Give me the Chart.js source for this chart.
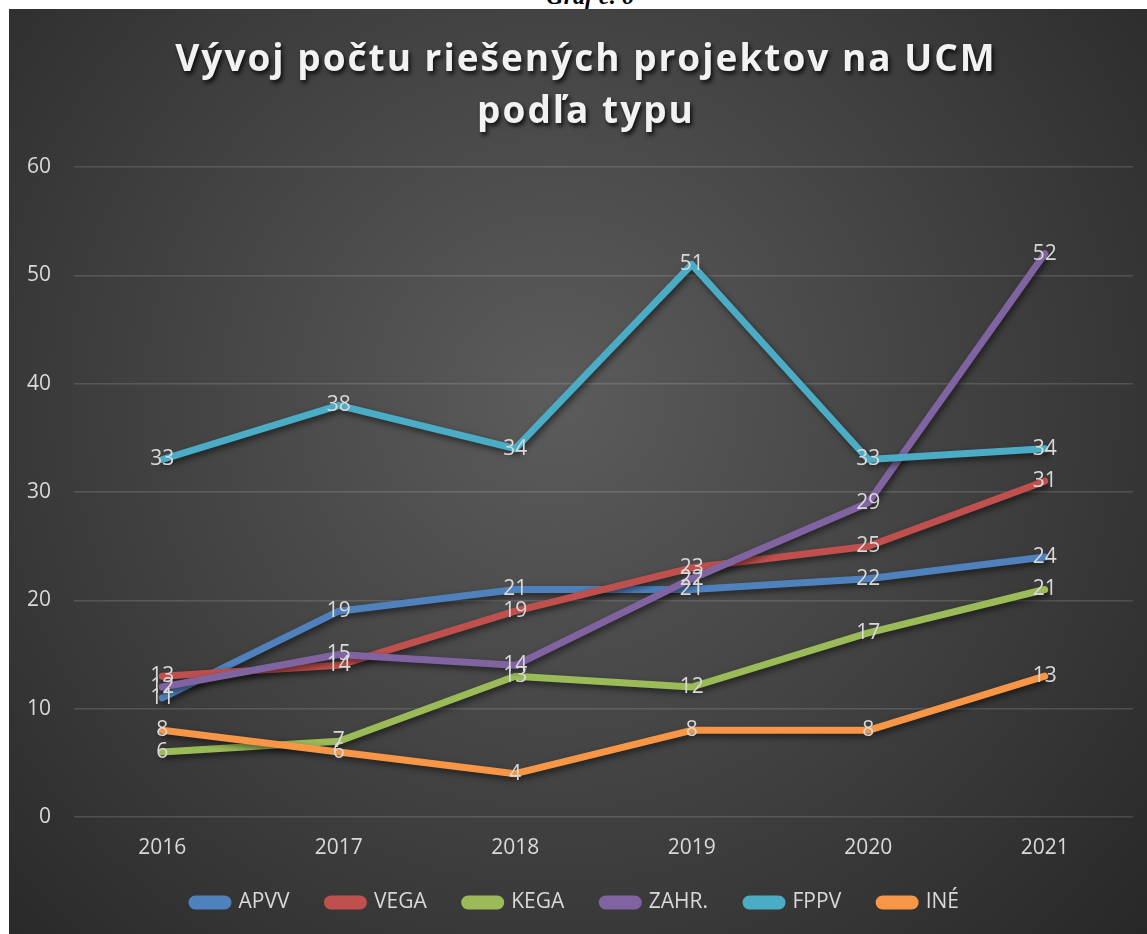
<!DOCTYPE html>
<html lang="sk">
<head>
<meta charset="utf-8">
<title>Vývoj počtu riešených projektov na UCM</title>
<script src="https://cdn.jsdelivr.net/npm/chart.js@4"></script>
<style>
  html, body { margin: 0; padding: 0; background: #fff; }
  body { width: 1147px; height: 934px; position: relative; overflow: hidden; }
  #caption {
    position: absolute; top: -17px; left: 0; width: 1180px;
    text-align: center; font: italic bold 24px 'Liberation Serif', serif; color: #000;
  }
  #box { position: absolute; left: 9px; top: 9px; width: 1138px; height: 925px; }
</style>
</head>
<body>
<div id="caption">Graf č. 6</div>
<div id="box"><canvas id="grafProjekty"></canvas></div>
<script>
// údaje z grafu
const roky = ['2016', '2017', '2018', '2019', '2020', '2021'];
const typy = ['APVV', 'VEGA', 'KEGA', 'ZAHR.', 'FPPV', 'INÉ'];
const apvv = [11, 19, 21, 21, 22, 24];
const vega = [13, 14, 19, 23, 25, 31];
const kega = [6, 7, 13, 12, 17, 21];
const zahr = [12, 15, 14, 22, 29, 52];
const fppv = [33, 38, 34, 51, 33, 34];
const ine = [8, 6, 4, 8, 8, 13];
const osY = [0, 10, 20, 30, 40, 50, 60];
const nadpis = ['Vývoj počtu riešených projektov na UCM', 'podľa typu'];

const farby = ['#4f81bd', '#c0504d', '#9bbb59', '#8064a2', '#4bacc6', '#f79646'];
const hodnoty = [apvv, vega, kega, zahr, fppv, ine];
const PISMO = "'Open Sans', sans-serif";
const SIVA = '#d9d9d9';

// tmavé pozadie s kruhovým prechodom
const pozadie = {
  id: 'pozadie',
  beforeDraw(chart) {
    const { ctx, width, height } = chart;
    const g = ctx.createRadialGradient(width * 0.48, height * 0.42, 0, width * 0.48, height * 0.42, width * 0.72);
    g.addColorStop(0, '#5c5c5c');
    g.addColorStop(1, '#262626');
    ctx.save();
    ctx.fillStyle = g;
    ctx.fillRect(0, 0, width, height);
    ctx.restore();
  }
};

// tieň pod čiarami
const tien = {
  id: 'tien',
  beforeDatasetDraw(chart) {
    const ctx = chart.ctx;
    ctx.save();
    ctx.shadowColor = 'rgba(0,0,0,0.55)';
    ctx.shadowBlur = 6;
    ctx.shadowOffsetX = 2;
    ctx.shadowOffsetY = 3;
  },
  afterDatasetDraw(chart) {
    chart.ctx.restore();
  }
};

// nadpis s tieňom
const titul = {
  id: 'titul',
  afterDraw(chart) {
    const ctx = chart.ctx;
    ctx.save();
    ctx.font = 'bold 37px ' + PISMO;
    ctx.letterSpacing = '2px';
    ctx.fillStyle = '#f2f2f2';
    ctx.textAlign = 'center';
    ctx.textBaseline = 'middle';
    ctx.shadowColor = 'rgba(0,0,0,0.8)';
    ctx.shadowBlur = 4;
    ctx.shadowOffsetX = 2;
    ctx.shadowOffsetY = 3;
    nadpis.forEach((riadok, i) => ctx.fillText(riadok, chart.width / 2 + 8, 51 + i * 52));
    ctx.restore();
  }
};

// popisky hodnôt v strede bodov
const popisky = {
  id: 'popisky',
  afterDatasetsDraw(chart) {
    const ctx = chart.ctx;
    ctx.save();
    ctx.font = '21px ' + PISMO;
    ctx.fillStyle = SIVA;
    ctx.textAlign = 'center';
    ctx.textBaseline = 'middle';
    chart.data.datasets.forEach((ds, i) => {
      chart.getDatasetMeta(i).data.forEach((bod, j) => {
        ctx.fillText(String(ds.data[j]), bod.x, bod.y);
      });
    });
    ctx.restore();
  }
};

new Chart(document.getElementById('grafProjekty'), {
  type: 'line',
  data: {
    labels: roky,
    datasets: typy.map((typ, i) => ({
      label: typ,
      data: hodnoty[i],
      borderColor: farby[i],
      backgroundColor: farby[i],
      borderWidth: 7,
      borderCapStyle: 'round',
      borderJoinStyle: 'round',
      pointRadius: 0,
      tension: 0,
      order: typy.length - i
    }))
  },
  options: {
    responsive: true,
    maintainAspectRatio: false,
    animation: false,
    layout: { padding: { top: 158, left: 9, right: 14, bottom: 11 } },
    plugins: {
      legend: {
        position: 'bottom',
        labels: {
          color: SIVA,
          font: { family: PISMO, size: 21 },
          boxWidth: 36,
          boxHeight: 7,
          useBorderRadius: true,
          borderRadius: 3.5,
          padding: 38,
          sort: (a, b) => a.datasetIndex - b.datasetIndex
        }
      },
      tooltip: { enabled: false }
    },
    scales: {
      x: {
        offset: true,
        grid: { display: false },
        border: { display: false },
        afterFit: (os) => { os.height = 37; },
        ticks: { color: SIVA, font: { family: PISMO, size: 21 }, padding: 10 }
      },
      y: {
        min: osY[0],
        max: osY[osY.length - 1],
        afterBuildTicks: (os) => { os.ticks = osY.map(v => ({ value: v })); },
        afterFit: (os) => { os.width = 56; },
        grid: { color: 'rgba(255,255,255,0.14)', lineWidth: 1.5, drawTicks: false },
        border: { display: false },
        ticks: { color: SIVA, font: { family: PISMO, size: 21 }, padding: 23 }
      }
    }
  },
  plugins: [pozadie, tien, titul, popisky]
});
</script>
</body>
</html>
